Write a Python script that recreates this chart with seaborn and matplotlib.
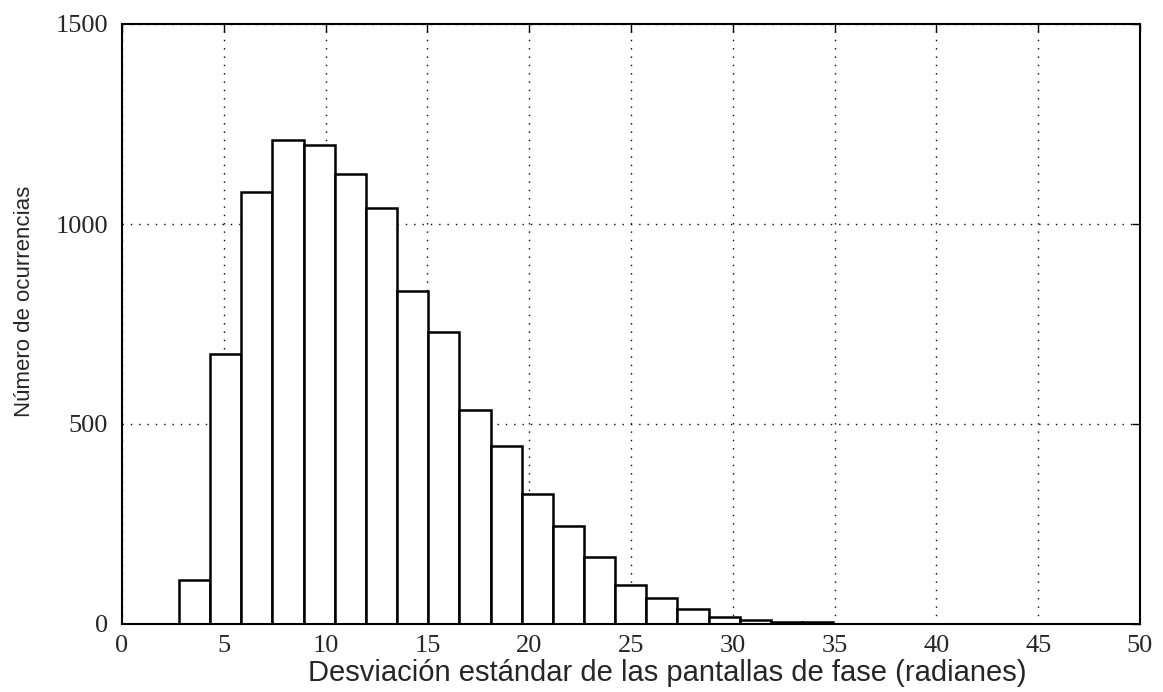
import numpy as np
import pandas as pd
import matplotlib
matplotlib.use("Agg")
import matplotlib.pyplot as plt
import seaborn as sns

# Histogram of phase-screen standard deviations (counts per bin)
bin_first_edge = 2.80
bin_last_edge = 34.93
counts = [110, 675, 1079, 1210, 1197, 1124, 1039, 833, 730, 534, 446,
          325, 245, 168, 98, 66, 37, 17, 10, 6, 4]
x_ticks = [0, 5, 10, 15, 20, 25, 30, 35, 40, 45, 50]
y_ticks = [0, 500, 1000, 1500]
x_label = "Desviación estándar de las pantallas de fase (radianes)"
y_label = "Número de ocurrencias"

edges = np.linspace(bin_first_edge, bin_last_edge, len(counts) + 1)
df = pd.DataFrame({"sigma": (edges[:-1] + edges[1:]) / 2, "n": counts})

sns.set_style("white")
plt.rcParams["font.family"] = ["Liberation Sans", "DejaVu Sans"]

fig = plt.figure(figsize=(11.63, 6.92), dpi=100)
ax = fig.add_axes([122 / 1163, 1 - 624 / 692, (1140 - 122) / 1163, (624 - 24) / 692])

sns.histplot(data=df, x="sigma", weights="n", bins=list(edges), ax=ax,
             color="white", edgecolor="black", linewidth=1.8, alpha=1,
             zorder=3)

ax.set_xlim(0, 50)
ax.set_ylim(0, 1500)
ax.set_xticks(x_ticks)
ax.set_yticks(y_ticks)
ax.set_xticklabels([str(t) for t in x_ticks], family="Liberation Serif", fontsize=19)
ax.set_yticklabels([str(t) for t in y_ticks], family="Liberation Serif", fontsize=19)
ax.tick_params(direction="in", length=6, width=1, color="black",
               top=True, right=True)
ax.tick_params(axis="x", pad=8)
ax.tick_params(axis="y", pad=10)

ax.grid(True, linestyle=(0, (1, 5)), color="black", linewidth=1.0, zorder=4)
ax.set_axisbelow(False)

for side in ax.spines.values():
    side.set_visible(True)
    side.set_color("black")
    side.set_linewidth(1.5)
    side.set_zorder(5)

ax.set_xlabel(x_label, fontsize=21)
ax.xaxis.set_label_coords(0.536, -0.059)
ax.set_ylabel(y_label, fontsize=16)
ax.yaxis.set_label_coords(-0.0855, 0.537)

fig.savefig("out.png", dpi=100, facecolor="white")
